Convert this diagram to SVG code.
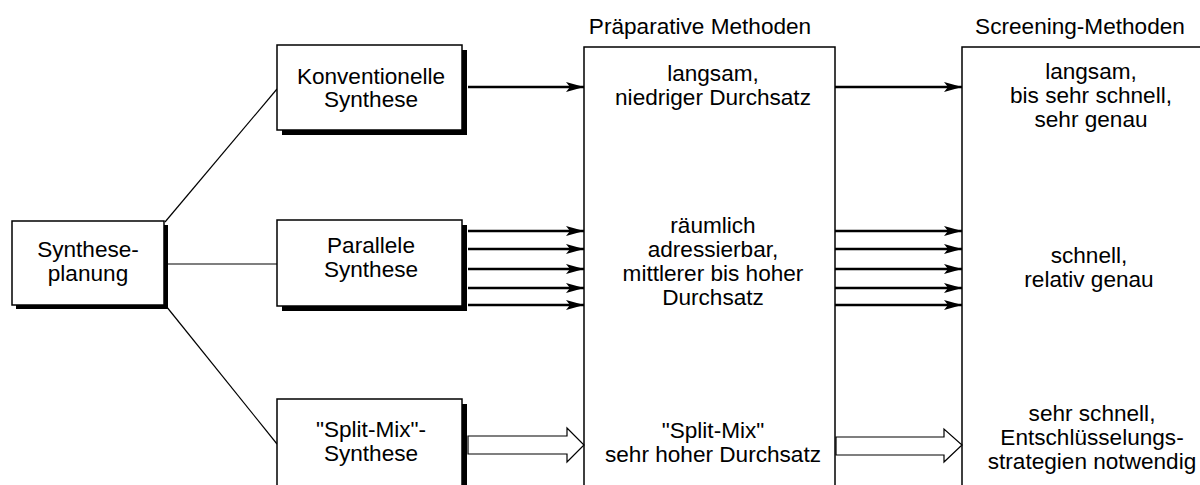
<svg xmlns="http://www.w3.org/2000/svg" width="1200" height="485" viewBox="0 0 1200 485">
<defs>
<style>
text{font-family:"Liberation Sans",Arial,sans-serif;font-size:22.6px;fill:#000;text-anchor:middle}
.box{fill:#fff;stroke:#000;stroke-width:1.5}
.shadow{fill:#000}
.col{fill:#fff;stroke:#000;stroke-width:1.5}
.link{stroke:#000;stroke-width:1.2;fill:none}
.arr{stroke:#000;stroke-width:2.5;fill:none;marker-end:url(#ah)}
.hollow{fill:#fff;stroke:#000;stroke-width:1.2}
</style>
<marker id="ah" markerUnits="userSpaceOnUse" markerWidth="20" markerHeight="12" refX="18" refY="5" orient="auto">
<path d="M0,0 L18,5 L0,10 L4,5 Z" fill="#000"/>
</marker>
</defs>
<rect width="1200" height="485" fill="#fff"/>

<g id="col-praep">
<text x="700" y="34">Präparative Methoden</text>
<rect class="col" x="584" y="47" width="251" height="460"/>
<text x="713" y="81">langsam,</text>
<text x="713" y="105">niedriger Durchsatz</text>
<text x="713" y="233">räumlich</text>
<text x="713" y="257">adressierbar,</text>
<text x="713" y="281">mittlerer bis hoher</text>
<text x="713" y="305">Durchsatz</text>
<text x="713" y="438">"Split-Mix"</text>
<text x="713" y="462">sehr hoher Durchsatz</text>
</g>

<g id="col-screen">
<text x="1080" y="34">Screening-Methoden</text>
<rect class="col" x="962" y="47" width="260" height="460"/>
<text x="1091" y="79">langsam,</text>
<text x="1091" y="103">bis sehr schnell,</text>
<text x="1091" y="127">sehr genau</text>
<text x="1089" y="263">schnell,</text>
<text x="1089" y="287">relativ genau</text>
<text x="1092" y="421">sehr schnell,</text>
<text x="1092" y="445">Entschlüsselungs-</text>
<text x="1092" y="469">strategien notwendig</text>
</g>

<g id="connectors">
<line class="link" x1="165" y1="222" x2="277" y2="89"/>
<line class="link" x1="168" y1="264" x2="277" y2="264"/>
<line class="link" x1="166" y1="306" x2="277" y2="444"/>
<line class="arr" x1="468" y1="87" x2="584" y2="87"/>
<line class="arr" x1="835" y1="87" x2="962" y2="87"/>
<line class="arr" x1="468" y1="231" x2="584" y2="231"/>
<line class="arr" x1="468" y1="249" x2="584" y2="249"/>
<line class="arr" x1="468" y1="269" x2="584" y2="269"/>
<line class="arr" x1="468" y1="288" x2="584" y2="288"/>
<line class="arr" x1="468" y1="305" x2="584" y2="305"/>
<line class="arr" x1="835" y1="231" x2="962" y2="231"/>
<line class="arr" x1="835" y1="249" x2="962" y2="249"/>
<line class="arr" x1="835" y1="269" x2="962" y2="269"/>
<line class="arr" x1="835" y1="288" x2="962" y2="288"/>
<line class="arr" x1="835" y1="305" x2="962" y2="305"/>
<polygon class="hollow" points="468,436 567,436 567,428 584,445 567,462 567,454 468,454"/>
<polygon class="hollow" points="836,437 944,437 944,429 962,445 944,462 944,455 836,455"/>
</g>

<g id="node-planung">
<rect class="shadow" x="16" y="225" width="152" height="84"/>
<rect class="box" x="12" y="221" width="152" height="84"/>
<text x="88" y="257">Synthese-</text>
<text x="88" y="281">planung</text>
</g>

<g id="node-konv">
<rect class="shadow" x="282" y="50" width="185" height="85"/>
<rect class="box" x="277" y="45" width="185" height="85"/>
<text x="371" y="84">Konventionelle</text>
<text x="371" y="107">Synthese</text>
</g>

<g id="node-parallel">
<rect class="shadow" x="282" y="225" width="185" height="86"/>
<rect class="box" x="277" y="220" width="185" height="86"/>
<text x="371" y="253">Parallele</text>
<text x="371" y="277">Synthese</text>
</g>

<g id="node-splitmix">
<rect class="shadow" x="282" y="404" width="185" height="100"/>
<rect class="box" x="277" y="399" width="185" height="100"/>
<text x="371" y="437">"Split-Mix"-</text>
<text x="371" y="461">Synthese</text>
</g>
</svg>
